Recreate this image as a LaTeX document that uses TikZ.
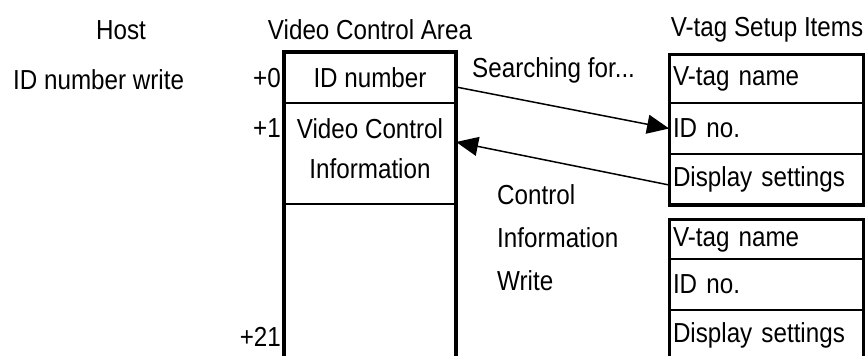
\documentclass[tikz,border=0pt]{standalone}
\usepackage{fontspec}
\setmainfont{Liberation Sans}[FakeStretch=0.88]
\usetikzlibrary{arrows.meta}
\begin{document}
\begin{tikzpicture}[x=1pt, y=-1pt, inner sep=0pt,
    font=\fontsize{27.5}{40}\selectfont,
    areacell/.style={draw, line width=2.2pt, minimum width=170pt, align=center},
    tagcell/.style={draw, line width=1.8pt, minimum width=193pt, inner xsep=3pt,
      text width=187pt, align=left},
    frame/.style={line width=3.2pt},
    flow/.style={line width=1.5pt, -{Triangle[length=22pt,width=19pt]}}]
    \useasboundingbox (0,0) rectangle (865,356);
    \clip (0,0) rectangle (865,356);

    % Titoli delle colonne
    \node (host) at (121,30) {Host};
    \node (areahead) at (370,30) {Video Control Area};
    \node (taghead) at (767,30) {V-tag Setup Items};
    \node[anchor=west] (hostwrite) at (13,80) {ID number write};

    % Area di controllo video (continua oltre il bordo)
    \node[areacell, minimum height=50pt] (idnum) at (370,78) {ID number};
    \node[areacell, minimum height=101pt, text depth=10pt] (vcinfo) at (370,153.5) {Video Control\\Information};
    \node[areacell, minimum height=170pt] (spare) at (370,289) {};
    \draw[frame] (idnum.north west) rectangle (spare.south east);

    % Offset delle parole
    \node[anchor=east] (off0) at (281,78) {+0};
    \node[anchor=east] (off1) at (281,128) {+1};
    \node[anchor=east] (off21) at (281,337) {+21};

    % Primo gruppo V-tag
    \node[tagcell, minimum height=48pt] (name1) at (766.5,79) {V-tag name};
    \node[tagcell, minimum height=51pt] (idno1) at (766.5,128.5) {ID no.};
    \node[tagcell, minimum height=50pt] (disp1) at (766.5,179) {Display settings};
    \draw[frame] (name1.north west) rectangle (disp1.south east);

    % Secondo gruppo V-tag
    \node[tagcell, minimum height=39pt] (name2) at (766.5,239.5) {V-tag name};
    \node[tagcell, minimum height=51pt] (idno2) at (766.5,284.5) {ID no.};
    \node[tagcell, minimum height=50pt] (disp2) at (766.5,335) {Display settings};
    \draw[frame] (name2.north west) rectangle (disp2.south east);

    % Frecce di ricerca e scrittura
    \draw[flow] ([yshift=-9pt]idnum.east) -- (idno1.west);
    \draw[flow] ([yshift=-6pt]disp1.west) -- ([yshift=11.5pt]vcinfo.east);
    \node[anchor=west] (search) at (472,70) {Searching for...};
    \node[anchor=west, align=left] (ctrlwrite) at (497,238) {Control\\[3pt]Information\\[3pt]Write};
\end{tikzpicture}
\end{document}
